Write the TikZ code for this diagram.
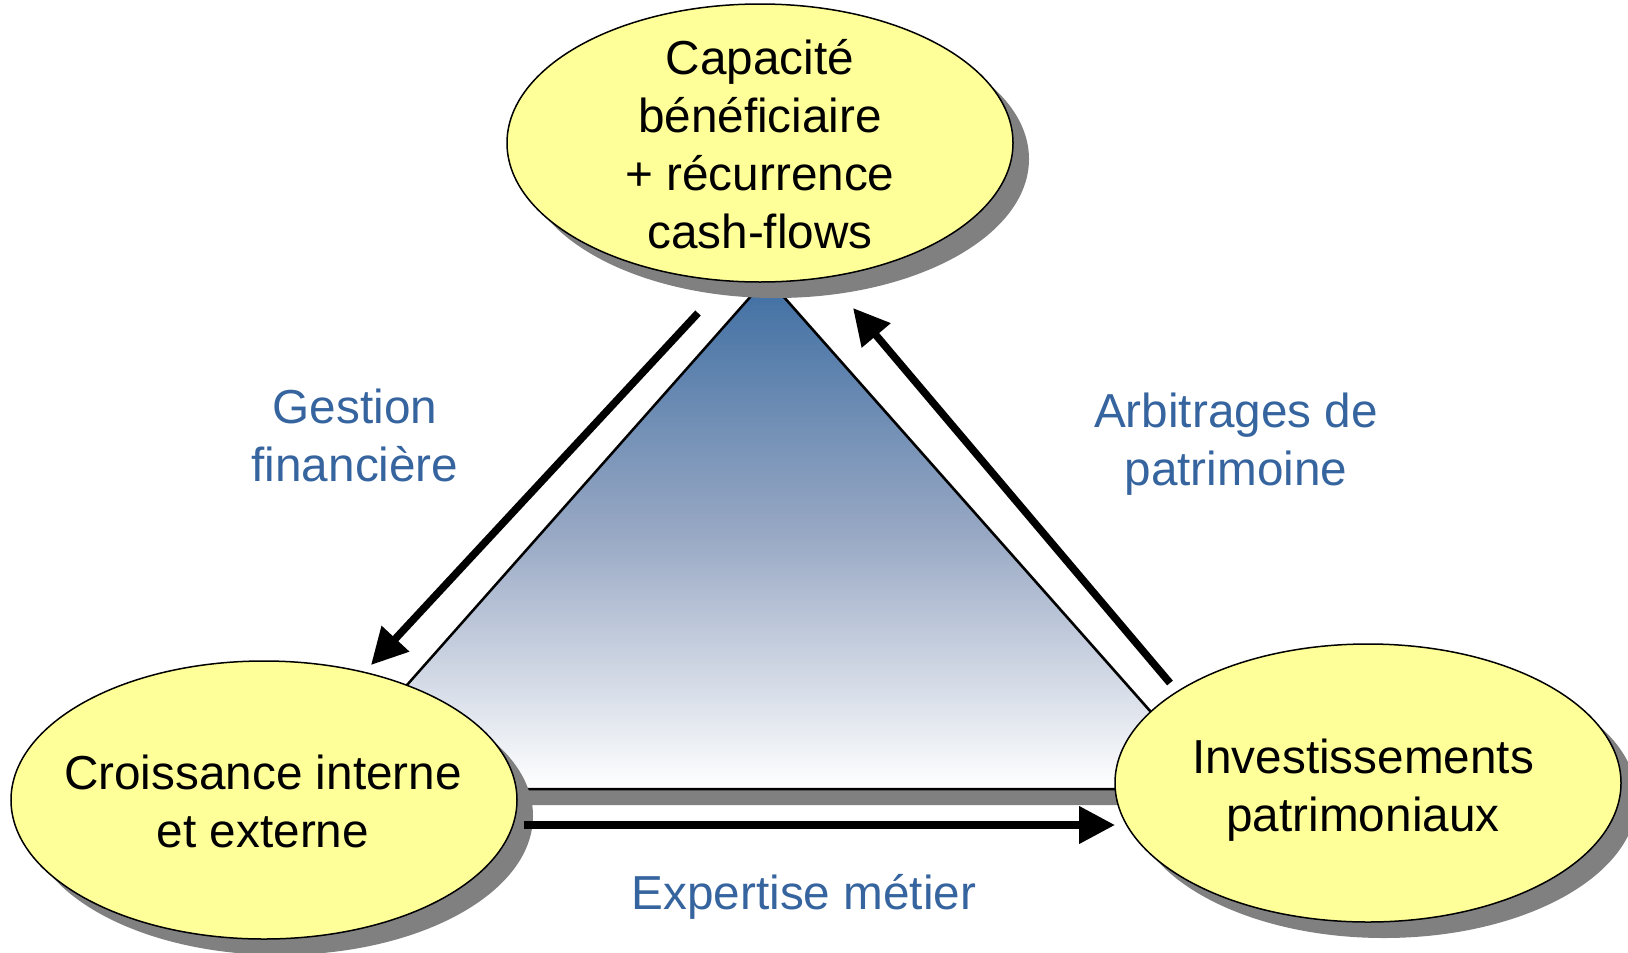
\documentclass[tikz,border=0pt]{standalone}
\usepackage{fontspec}
\setmainfont{Liberation Sans}
\usetikzlibrary{shapes.geometric,arrows.meta}
\definecolor{bubblefill}{RGB}{255,255,153}
\definecolor{labelblue}{RGB}{54,100,158}
\definecolor{shadowgray}{RGB}{128,128,128}
\definecolor{tritop}{RGB}{62,110,162}
\definecolor{trimid}{RGB}{152,168,196}
\begin{document}
\begin{tikzpicture}[x=1pt,y=-1pt,
  bubble/.style={ellipse, draw=black, line width=1.5pt, fill=bubblefill,
    minimum width=506pt, minimum height=278pt, inner sep=0pt},
  bubbleshadow/.style={ellipse, fill=shadowgray,
    minimum width=506pt, minimum height=278pt, inner sep=0pt},
  bubbletext/.style={align=center, font=\fontsize{47.7pt}{58pt}\selectfont},
  flowlabel/.style={align=center, text=labelblue, font=\fontsize{47.7pt}{58pt}\selectfont},
  flow/.style={line width=7.5pt, -{Triangle[length=36pt,width=36pt]}}
]
\useasboundingbox (0,0) rectangle (1628,953);

% central shaded triangle with its shadow
\fill[shadowgray] (783,294) -- (331,805) -- (1235,805) -- cycle;
\draw[line width=2.5pt, top color=tritop, bottom color=white, middle color=trimid]
  (767,278) -- (315,789) -- (1219,789) -- cycle;

% shadows of the three bubbles
\node[bubbleshadow] at (776,159) {};
\node[bubbleshadow] at (280,816) {};
\node[bubbleshadow] at (1384,799) {};

% the three bubbles
\node[bubble] (cap) at (760,143) {};
\node[bubble] (croiss) at (264,800) {};
\node[bubble] (invest) at (1368,783) {};

\node[bubbletext] (captext) at (760,144) {Capacité\\bénéficiaire\\+ récurrence\\cash-flows};
\node[bubbletext] (croisstext) at (263,801) {Croissance interne\\et externe};
\node[bubbletext] (investtext) at (1363,790) {Investissements\\patrimoniaux};

% flow arrows
\coordinate (g1) at (698,313);
\coordinate (g2) at (371,665);
\coordinate (a1) at (1170,683);
\coordinate (a2) at (853,308);
\coordinate (e1) at (524,825);
\coordinate (e2) at (1115,825);
\draw[flow] (g1) -- (g2);
\draw[flow] (a1) -- (a2);
\draw[flow] (e1) -- (e2);

% flow labels
\node[flowlabel] (gest) at (355,435) {Gestion\\financière};
\node[flowlabel] (arb) at (1236,444) {Arbitrages de\\patrimoine};
\node[flowlabel] (exp) at (804,897) {Expertise métier};
\end{tikzpicture}
\end{document}
